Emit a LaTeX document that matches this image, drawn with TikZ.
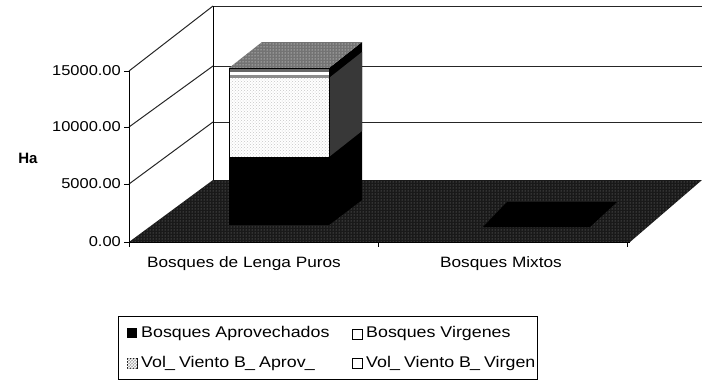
\documentclass[tikz,border=0pt]{standalone}
\usepackage{fontspec}
\setmainfont{Liberation Sans}
\newfontfamily\labfont[FakeStretch=1.15]{Liberation Sans}
\newcommand{\usc}{\kern-0.9pt\_\kern-0.9pt}
\usetikzlibrary{patterns}
\begin{document}
\begin{tikzpicture}[x=1pt,y=-1pt,
  wall/.style={line width=1pt,black},
  grid/.style={line width=1pt,black!85},
  ticklab/.style={font=\labfont\fontsize{14.3}{16}\selectfont,anchor=east,inner sep=0pt},
  catlab/.style={font=\labfont\fontsize{15}{18}\selectfont,anchor=center,inner sep=0pt},
  leglab/.style={font=\labfont\fontsize{15.5}{18}\selectfont,anchor=west,inner sep=0pt},
  floorfill/.style={fill=black!90},
  swatch/.style={draw=black,line width=0.8pt}]
\useasboundingbox (0,0) rectangle (702,386);
% back wall
\draw[grid] (213,6) -- (702,6);
\draw[grid] (213,66) -- (702,66);
\draw[grid] (213,122) -- (702,122);
\draw[wall] (213,6) -- (213,180);
% side wall gridlines
\draw[grid] (129,71) -- (213,6);
\draw[grid] (129,127) -- (213,66);
\draw[grid] (129,184) -- (213,122);
% floor
\fill[floorfill] (129,242) -- (213,180) -- (702,180) -- (630,242) -- cycle;
\fill[pattern=dots,pattern color=black!45] (129,242) -- (213,180) -- (702,180) -- (630,242) -- cycle;
% bar: Bosques de Lenga Puros
\fill[black] (329,68) -- (362,42) -- (362,200) -- (329,225) -- cycle;
\fill[black!78] (329,78) -- (362,52) -- (362,131) -- (329,157) -- cycle;
\fill[black!55] (229,68) -- (262,42) -- (362,42) -- (329,68) -- cycle;
\fill[pattern=dots,pattern color=white] (229,68) -- (262,42) -- (362,42) -- (329,68) -- cycle;
\fill[black] (229,157) rectangle (329,225);
\fill[white] (229,78) rectangle (329,157);
\fill[pattern=crosshatch dots,pattern color=black!22] (229,78) rectangle (329,157);
\fill[black!60] (229,68) rectangle (329,72);
\fill[white] (229,72) rectangle (329,75);
\fill[black!45] (229,75) rectangle (329,78);
\draw[black,line width=0.7pt] (229,68) rectangle (329,157);
% Bosques Mixtos (flat)
\fill[black] (483,227) -- (507,202) -- (617,202) -- (590,227) -- cycle;
% axes
\draw[wall] (129,71) -- (129,242);
\draw[wall] (129,242) -- (630,242);
\foreach \yy in {71,127,184,242} \draw[wall] (124,\yy) -- (129,\yy);
\foreach \xx in {129,378,627} \draw[wall] (\xx,242) -- (\xx,247);
% tick labels
\node[ticklab] (t15) at (121,71) {15000.00};
\node[ticklab] (t10) at (121,127) {10000.00};
\node[ticklab] (t5) at (121,184) {5000.00};
\node[ticklab] (t0) at (121,242) {0.00};
\node[font=\bfseries\fontsize{15}{17}\selectfont,inner sep=0pt] (ha) at (28,158) {Ha};
% category labels
\node[catlab] (c1) at (244,264) {Bosques de Lenga Puros};
\node[catlab] (c2) at (501,264) {Bosques Mixtos};
% legend
\draw[line width=0.8pt] (118,316) rectangle (537,379);
\fill[black] (127,328) rectangle (137,338);
\node[leglab] (l1) at (141,333.5) {Bosques Aprovechados};
\draw[swatch,fill=white] (352,329) rectangle (362,339);
\node[leglab] (l2) at (366,333.5) {Bosques Virgenes};
\draw[swatch,fill=black!35] (127,358) rectangle (137,368);
\fill[pattern=crosshatch,pattern color=white] (127,358) rectangle (137,368);
\node[leglab] (l3) at (141,363) {Vol\usc{} Viento B\usc{} Aprov\usc};
\draw[swatch,fill=white] (352,358) rectangle (362,368);
\node[leglab] (l4) at (366,363) {Vol\usc{} Viento B\usc{} Virgen};
\end{tikzpicture}
\end{document}
